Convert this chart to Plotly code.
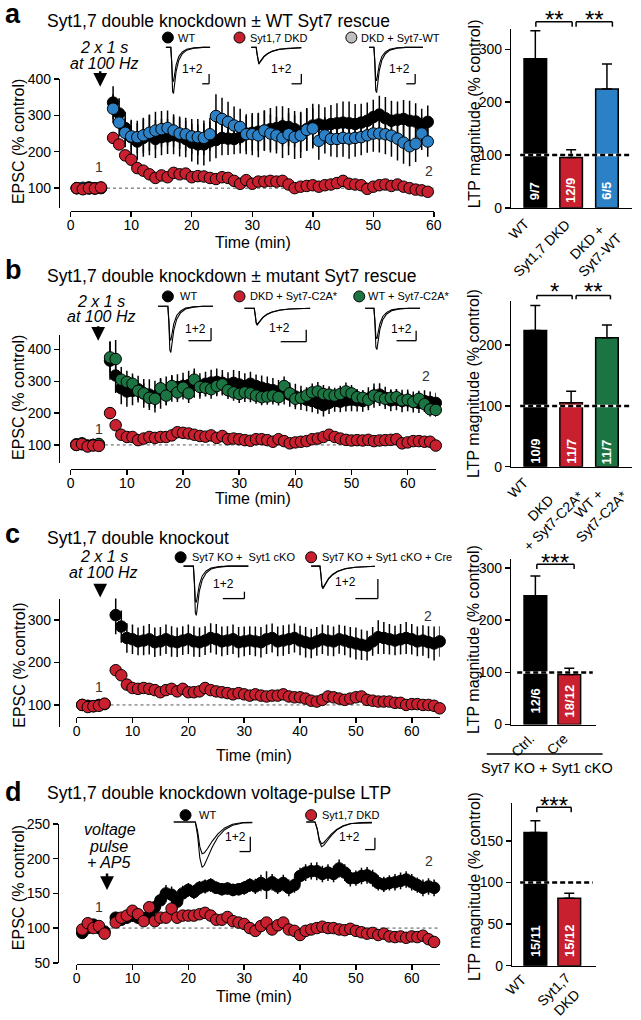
import plotly.graph_objects as go

# ======================= DATA =======================
# ---- panel a : Syt1,7 DKD +/- WT Syt7 rescue (time course, % control) ----
TIME_A = [1, 2, 3, 4, 5,
          7, 8, 9, 10, 11, 12, 13, 14, 15, 16,
          17, 18, 19, 20, 21, 22, 23, 24, 25, 26,
          27, 28, 29, 30, 31, 32, 33, 34, 35, 36,
          37, 38, 39, 40, 41, 42, 43, 44, 45, 46,
          47, 48, 49, 50, 51, 52, 53, 54, 55, 56,
          57, 58, 59]
WT_A = [100, 98, 102, 99, 101,
        335, 305, 265, 240, 228, 238, 245, 235, 240, 242,
        245, 242, 235, 225, 220, 220, 228, 232, 238, 236,
        235, 240, 250, 252, 255, 258, 262, 265, 270, 268,
        262, 255, 262, 272, 275, 272, 276, 278, 280, 278,
        276, 280, 285, 295, 302, 292, 285, 288, 290, 285,
        283, 270, 282]
ERR_WT_A = [10, 8, 9, 8, 7,
            45, 42, 45, 48, 50, 52, 55, 52, 50, 48,
            52, 55, 50, 52, 55, 58, 55, 50, 48, 45,
            42, 45, 48, 50, 52, 55, 58, 60, 55, 52,
            50, 55, 58, 60, 55, 50, 52, 55, 58, 60,
            55, 52, 50, 48, 52, 58, 55, 50, 52, 55,
            50, 48, 45]
RESCUE_A = [100, 101, 99, 100, 100,
            318, 280, 252, 242, 240, 245, 252, 258, 262, 265,
            258, 250, 248, 242, 240, 238, 248, 298, 290, 282,
            272, 268, 248, 248, 245, 258, 250, 245, 238, 248,
            240, 245, 260, 264, 230, 245, 235, 235, 238, 236,
            238, 240, 245, 250, 250, 248, 244, 236, 225, 215,
            222, 250, 228]
ERR_RESCUE_A = [6, 5, 6, 5, 6,
                40, 38, 40, 42, 45, 48, 50, 52, 50, 48,
                45, 42, 45, 48, 50, 48, 45, 60, 58, 55,
                52, 50, 55, 58, 60, 55, 52, 50, 55, 58,
                60, 62, 58, 55, 52, 50, 48, 50, 52, 55,
                52, 50, 48, 50, 52, 55, 58, 60, 58, 55,
                50, 45, 42]
DKD_A = [100, 97, 100, 99, 102,
         238, 220, 190, 178, 155, 148, 138, 128, 135, 130,
         142, 138, 140, 130, 133, 132, 128, 125, 130, 128,
         120, 112, 122, 112, 118, 118, 120, 118, 120, 110,
         100, 104, 106, 108, 104, 108, 110, 114, 120, 112,
         110, 108, 98, 104, 108, 110, 106, 110, 104, 100,
         96, 94, 90]
ERR_DKD_A = [5, 5, 6, 5, 5,
             15, 14, 12, 12, 10, 10, 9, 9, 9, 9,
             9, 9, 9, 9, 8, 8, 8, 8, 8, 8,
             8, 8, 8, 8, 8, 8, 8, 8, 8, 8,
             8, 8, 8, 8, 8, 8, 8, 8, 8, 8,
             8, 8, 8, 8, 8, 8, 8, 8, 8, 8,
             8, 8, 8]

# ---- panel b : Syt1,7 DKD +/- mutant Syt7 rescue ----
TIME_B = [1, 2, 3, 4, 5,
          7, 8, 9, 10, 11, 12, 13, 14, 15, 16,
          17, 18, 19, 20, 21, 22, 23, 24, 25, 26,
          27, 28, 29, 30, 31, 32, 33, 34, 35, 36,
          37, 38, 39, 40, 41, 42, 43, 44, 45, 46,
          47, 48, 49, 50, 51, 52, 53, 54, 55, 56,
          57, 58, 59, 60, 61, 62, 63, 64, 65]
WT_B = [100, 102, 98, 100, 100,
        365, 318, 278, 268, 270, 275, 262, 258, 252, 262,
        270, 278, 282, 285, 288, 290, 285, 292, 296, 298,
        295, 290, 295, 290, 285, 292, 285, 280, 275, 272,
        268, 262, 258, 252, 248, 242, 238, 232, 225, 232,
        238, 236, 240, 242, 240, 238, 245, 255, 258, 248,
        240, 242, 238, 240, 235, 232, 238, 235, 232]
ERR_WT_B = [8, 7, 8, 6, 7,
            60, 55, 50, 48, 45, 42, 45, 48, 50, 48,
            45, 42, 40, 42, 45, 42, 40, 38, 40, 42,
            40, 38, 40, 42, 40, 38, 36, 38, 40, 38,
            36, 35, 38, 40, 38, 36, 35, 34, 36, 35,
            34, 33, 35, 36, 35, 34, 36, 38, 36, 35,
            34, 33, 35, 34, 33, 32, 34, 33, 32]
C2A_WT_B = [102, 105, 97, 100, 103,
            375, 370, 305, 298, 292, 270, 262, 248, 245, 278,
            255, 285, 265, 280, 262, 305, 282, 280, 275, 285,
            290, 272, 265, 260, 265, 262, 255, 250, 252, 255,
            250, 285, 262, 245, 248, 255, 265, 268, 260, 258,
            255, 260, 268, 262, 250, 248, 242, 255, 250, 245,
            248, 250, 240, 242, 235, 245, 228, 212, 210]
ERR_C2A_WT_B = [6, 6, 7, 6, 6,
                50, 60, 40, 35, 32, 30, 32, 30, 28, 30,
                30, 32, 30, 28, 30, 35, 30, 28, 30, 32,
                30, 28, 26, 28, 30, 28, 26, 25, 26, 28,
                26, 30, 28, 26, 25, 26, 28, 30, 28, 26,
                25, 26, 28, 26, 25, 24, 25, 26, 25, 24,
                25, 26, 24, 25, 24, 25, 24, 23, 22]
C2A_DKD_B = [100, 103, 95, 98, 97,
             200, 162, 132, 125, 125, 115, 120, 125, 122, 125,
             125, 130, 140, 138, 136, 132, 128, 126, 130, 122,
             128, 118, 120, 118, 115, 113, 118, 118, 115, 110,
             118, 112, 105, 108, 110, 112, 118, 120, 125, 132,
             125, 120, 116, 114, 115, 114, 116, 112, 114, 115,
             116, 118, 105, 108, 112, 112, 110, 110, 98]
ERR_C2A_DKD_B = [6, 7, 6, 6, 6,
                 18, 14, 12, 10, 10, 10, 10, 10, 10, 10,
                 10, 10, 12, 12, 12, 10, 10, 10, 10, 10,
                 10, 10, 10, 10, 10, 10, 10, 10, 10, 10,
                 10, 10, 10, 10, 10, 10, 10, 10, 10, 10,
                 10, 10, 10, 10, 10, 10, 10, 10, 10, 10,
                 10, 10, 10, 10, 10, 10, 10, 10, 10]

# ---- panel c : Syt1,7 double knockout ----
TIME_C = [1, 2, 3, 4, 5,
          7, 8, 9, 10, 11, 12, 13, 14, 15, 16,
          17, 18, 19, 20, 21, 22, 23, 24, 25, 26,
          27, 28, 29, 30, 31, 32, 33, 34, 35, 36,
          37, 38, 39, 40, 41, 42, 43, 44, 45, 46,
          47, 48, 49, 50, 51, 52, 53, 54, 55, 56,
          57, 58, 59, 60, 61, 62, 63, 64, 65]
CTRL_C = [100, 98, 97, 100, 102,
          312, 285, 258, 255, 250, 252, 255, 248, 250, 255,
          250, 248, 252, 255, 250, 248, 252, 258, 255, 250,
          252, 255, 248, 250, 252, 250, 248, 255, 258, 250,
          252, 255, 258, 252, 248, 245, 250, 255, 252, 250,
          255, 252, 248, 245, 242, 240, 250, 260, 258, 255,
          252, 255, 258, 255, 250, 252, 248, 245, 250]
ERR_CTRL_C = [8, 7, 7, 6, 6,
              45, 38, 35, 35, 33, 35, 36, 35, 34, 35,
              36, 35, 34, 35, 36, 35, 34, 35, 36, 35,
              34, 35, 36, 35, 34, 35, 36, 35, 34, 35,
              36, 35, 34, 35, 36, 35, 34, 35, 36, 35,
              34, 35, 36, 38, 36, 35, 34, 40, 38, 36,
              35, 36, 38, 36, 35, 36, 38, 40, 36]
CRE_C = [100, 95, 97, 98, 103,
         182, 170, 148, 140, 138, 140, 138, 135, 130, 135,
         138, 132, 138, 130, 130, 132, 140, 135, 132, 130,
         128, 125, 128, 125, 122, 125, 122, 120, 122, 122,
         125, 120, 118, 118, 115, 110, 108, 112, 120, 118,
         115, 112, 115, 118, 120, 112, 110, 108, 108, 108,
         105, 105, 100, 102, 102, 100, 100, 98, 92]
ERR_CRE_C = [5, 5, 5, 5, 5,
             10, 9, 8, 8, 7, 7, 7, 7, 7, 7,
             7, 7, 7, 7, 7, 7, 7, 7, 7, 7,
             7, 7, 7, 7, 7, 7, 7, 7, 7, 7,
             7, 7, 7, 7, 7, 7, 7, 7, 7, 7,
             7, 7, 7, 7, 7, 7, 7, 7, 7, 7,
             7, 7, 7, 7, 7, 7, 7, 7, 7]

# ---- panel d : voltage-pulse LTP ----
TIME_D = [1, 2, 3, 4, 5,
          7, 8, 9, 10, 11, 12, 13, 14, 15, 16,
          17, 18, 19, 20, 21, 22, 23, 24, 25, 26,
          27, 28, 29, 30, 31, 32, 33, 34, 35, 36,
          37, 38, 39, 40, 41, 42, 43, 44, 45, 46,
          47, 48, 49, 50, 51, 52, 53, 54, 55, 56,
          57, 58, 59, 60, 61, 62, 63, 64]
WT_D = [93, 100, 105, 100, 95,
        115, 112, 115, 118, 115, 112, 118, 130, 140, 150,
        148, 138, 150, 155, 152, 158, 160, 162, 158, 156,
        157, 155, 156, 158, 162, 160, 165, 162, 166, 160,
        165, 158, 162, 175, 180, 182, 182, 178, 180, 178,
        186, 180, 172, 172, 175, 176, 172, 165, 163, 165,
        166, 168, 170, 166, 162, 158, 160, 158]
ERR_WT_D = [6, 5, 6, 5, 5,
            8, 8, 8, 9, 9, 9, 10, 10, 11, 12,
            12, 11, 11, 10, 10, 10, 10, 10, 9, 9,
            9, 9, 9, 10, 10, 11, 12, 20, 12, 11,
            12, 12, 11, 12, 12, 12, 13, 12, 12, 12,
            13, 12, 12, 11, 12, 12, 12, 11, 11, 11,
            12, 12, 12, 12, 11, 12, 12, 12]
DKD_D = [98, 107, 100, 103, 92,
         108, 115, 118, 125, 120, 110, 130, 110, 115, 115,
         128, 115, 118, 118, 118, 120, 122, 118, 112, 112,
         116, 110, 108, 106, 100, 96, 103, 108, 98, 104,
         108, 98, 96, 90, 96, 98, 100, 102, 100, 100,
         98, 97, 99, 96, 94, 92, 93, 90, 92, 88,
         87, 88, 86, 88, 87, 89, 84, 80]
ERR_DKD_D = [4, 4, 4, 4, 4,
             5, 5, 5, 5, 5, 5, 5, 5, 5, 5,
             5, 5, 5, 5, 5, 5, 5, 5, 5, 5,
             5, 5, 5, 5, 5, 5, 5, 5, 5, 5,
             5, 5, 5, 5, 5, 5, 5, 5, 5, 5,
             5, 5, 5, 5, 5, 5, 5, 5, 5, 5,
             5, 5, 5, 5, 5, 5, 5, 5]

# ---- bar graphs: LTP magnitude (% control) ----
BAR_A_LABELS = ["WT", "Syt1,7 DKD", "DKD +<br>Syt7-WT"]
BAR_A_VALUES = [282, 95, 225]
BAR_A_ERR = [53, 15, 47]
BAR_A_N = ["9/7", "12/9", "6/5"]

BAR_B_LABELS = ["WT", "DKD<br>+ Syt7-C2A*", "WT +<br>Syt7-C2A*"]
BAR_B_VALUES = [224, 105, 212]
BAR_B_ERR = [41, 19, 21]
BAR_B_N = ["10/9", "11/7", "11/7"]

BAR_C_LABELS = ["Ctrl.", "Cre"]
BAR_C_VALUES = [247, 96]
BAR_C_ERR = [38, 12]
BAR_C_N = ["12/6", "18/12"]

BAR_D_LABELS = ["WT", "Syt1,7<br>DKD"]
BAR_D_VALUES = [160, 81]
BAR_D_ERR = [14, 6]
BAR_D_N = ["15/11", "15/12"]

# ---- example EPSC traces (normalised amplitude; 1 = before, 2 = after LTP) ----
SWEEP_MS = [-30, 0, 1, 2, 3, 4, 6, 9, 13, 18, 26, 36, 60]
WT_EPSC_1 = [0, 0, -0.30, -0.70, -0.74, -0.60, -0.38, -0.20, -0.10, -0.04, -0.01, 0, 0]
WT_EPSC_2 = [0, 0, -0.35, -0.95, -1.00, -0.82, -0.52, -0.28, -0.14, -0.06, -0.02, 0, 0]
DKD_EPSC_1 = [0, 0, -0.38, -0.86, -0.96, -0.88, -0.72, -0.53, -0.36, -0.23, -0.11, -0.05, 0]
DKD_EPSC_2 = [0, 0, -0.40, -0.90, -1.00, -0.92, -0.75, -0.55, -0.38, -0.24, -0.12, -0.05, 0]
VP_MS = [-40, 0, 2, 4, 6, 8, 11, 15, 20, 26, 33, 42, 80]
VP_WT_1 = [0, 0, -0.20, -0.55, -0.70, -0.68, -0.58, -0.42, -0.26, -0.13, -0.05, -0.01, 0]
VP_WT_2 = [0, 0, -0.30, -0.80, -1.00, -0.95, -0.78, -0.55, -0.33, -0.17, -0.07, -0.02, 0]
VP_DKD_1 = [0, 0, -0.30, -0.80, -1.00, -0.95, -0.78, -0.55, -0.33, -0.17, -0.07, -0.02, 0]
VP_DKD_2 = [0, 0, -0.27, -0.72, -0.88, -0.84, -0.69, -0.49, -0.30, -0.15, -0.06, -0.02, 0]

# ======================= STYLE / LAYOUT =======================
W, H = 641, 1020
FONT = "Liberation Sans, Arial, Helvetica, sans-serif"
RED = "#C8202F"
BLUE = "#2B80C6"
GREEN = "#1C7443"
GREY = "#BEBEBE"


def px(x):
    return x / W


def py(y):
    return 1 - y / H


def sfx(n):
    return '' if n == 1 else str(n)


fig = go.Figure()
layout = dict(width=W, height=H, margin=dict(l=0, r=0, t=0, b=0),
              paper_bgcolor='white', plot_bgcolor='rgba(0,0,0,0)',
              showlegend=False, font=dict(family=FONT, color='black', size=14))
annotations = []
shapes = []


def text(x, y, t, size=14, xanchor='center', yanchor='middle', angle=0,
         color='black', bold=False, italic=False, align='center'):
    if bold:
        t = '<b>' + t + '</b>'
    if italic:
        t = '<i>' + t + '</i>'
    annotations.append(dict(x=px(x), y=py(y), xref='paper', yref='paper', text=t,
                            showarrow=False, xanchor=xanchor, yanchor=yanchor, align=align,
                            textangle=angle, font=dict(size=size, color=color, family=FONT)))


def pline(x0, y0, x1, y1, width=1.5, color='black', dash=None):
    ln = dict(color=color, width=width)
    if dash:
        ln['dash'] = dash
    shapes.append(dict(type='line', xref='paper', yref='paper', x0=px(x0), y0=py(y0),
                       x1=px(x1), y1=py(y1), line=ln, layer='above'))


# ---------------- time-course panels ----------------
TIME_PANELS = [
    dict(n=1, xdom=(68, 438), xr=(0, 60), xpos=206, ydom=(203, 72), yr=(46, 400), ypos=56,
         yt=[100, 200, 300, 400], xt=[0, 10, 20, 30, 40, 50, 60]),
    dict(n=3, xdom=(68, 440), xr=(0, 65), xpos=468, ydom=(462, 332), yr=(44, 446), ypos=56,
         yt=[100, 200, 300, 400], xt=[0, 10, 20, 30, 40, 50, 60]),
    dict(n=5, xdom=(74, 444), xr=(0, 65), xpos=720, ydom=(730, 600), yr=(49, 351), ypos=56,
         yt=[100, 200, 300], xt=[0, 10, 20, 30, 40, 50, 60]),
    dict(n=7, xdom=(74, 444), xr=(0, 65), xpos=971, ydom=(970, 829), yr=(50, 250), ypos=55,
         yt=[50, 100, 150, 200, 250], xt=[0, 10, 20, 30, 40, 50, 60]),
]
for p in TIME_PANELS:
    s = sfx(p['n'])
    layout['xaxis' + s] = dict(domain=[px(p['xdom'][0]), px(p['xdom'][1])], range=list(p['xr']),
                               anchor='free', position=py(p['xpos']), showline=True, linewidth=1.5,
                               linecolor='black', ticks='outside', ticklen=5, tickwidth=1.5,
                               tickcolor='black', tickvals=p['xt'], showgrid=False, zeroline=False,
                               tickfont=dict(size=14), ticklabelstandoff=-4)
    layout['yaxis' + s] = dict(domain=[py(p['ydom'][0]), py(p['ydom'][1])], range=list(p['yr']),
                               anchor='free', position=px(p['ypos']), showline=True, linewidth=1.5,
                               linecolor='black', ticks='outside', ticklen=5, tickwidth=1.5,
                               tickcolor='black', tickvals=p['yt'], showgrid=False, zeroline=False,
                               tickfont=dict(size=14))
    shapes.append(dict(type='line', xref='x' + s, yref='y' + s, x0=5, x1=p['xr'][1], y0=100, y1=100,
                       line=dict(color='#555555', width=1, dash='dot'), layer='below'))

TIME_SERIES = [
    (1, TIME_A, WT_A, ERR_WT_A, 'black'),
    (1, TIME_A, RESCUE_A, ERR_RESCUE_A, BLUE),
    (1, TIME_A, DKD_A, ERR_DKD_A, RED),
    (3, TIME_B, WT_B, ERR_WT_B, 'black'),
    (3, TIME_B, C2A_WT_B, ERR_C2A_WT_B, GREEN),
    (3, TIME_B, C2A_DKD_B, ERR_C2A_DKD_B, RED),
    (5, TIME_C, CTRL_C, ERR_CTRL_C, 'black'),
    (5, TIME_C, CRE_C, ERR_CRE_C, RED),
    (7, TIME_D, WT_D, ERR_WT_D, 'black'),
    (7, TIME_D, DKD_D, ERR_DKD_D, RED),
]
for n, t, v, e, c in TIME_SERIES:
    assert len(t) == len(v) == len(e), (n, len(t), len(v), len(e))
    s = sfx(n)
    fig.add_trace(go.Scatter(x=t, y=v, mode='markers', xaxis='x' + s, yaxis='y' + s,
                             marker=dict(size=11.5, color=c, line=dict(color='black', width=1)),
                             error_y=dict(type='data', array=e, visible=True, color='black',
                                          thickness=1.5, width=0),
                             cliponaxis=False, hoverinfo='skip'))

# ---------------- bar panels ----------------
BAR_PANELS = [
    dict(n=2, xdom=(517, 640), xr=(-0.67, 2.7), ydom=(203, 21), yr=(0, 339), yt=[0, 100, 200, 300],
         labels=BAR_A_LABELS, vals=BAR_A_VALUES, err=BAR_A_ERR, ns=BAR_A_N,
         colors=['black', RED, BLUE], width=0.63, nlab_y=32, dash=(526, 640),
         lab_pos=[(541, 208), (583, 209), (636, 209)]),
    dict(n=4, xdom=(517, 640), xr=(-0.67, 2.7), ydom=(466, 298), yr=(0, 272), yt=[0, 100, 200],
         labels=BAR_B_LABELS, vals=BAR_B_VALUES, err=BAR_B_ERR, ns=BAR_B_N,
         colors=['black', RED, GREEN], width=0.63, nlab_y=25, dash=(526, 640),
         lab_pos=[(540, 471), (597, 471), (641, 471)]),
    dict(n=6, xdom=(517, 603), xr=(-0.71, 1.78), ydom=(728, 560), yr=(0, 317), yt=[0, 100, 200, 300],
         labels=BAR_C_LABELS, vals=BAR_C_VALUES, err=BAR_C_ERR, ns=BAR_C_N,
         colors=['black', RED], width=0.67, nlab_y=45, dash=(523, 600),
         lab_pos=[(547, 731), (581, 731)]),
    dict(n=8, xdom=(518, 603), xr=(-0.68, 1.78), ydom=(973, 808), yr=(0, 195), yt=[0, 50, 100, 150],
         labels=BAR_D_LABELS, vals=BAR_D_VALUES, err=BAR_D_ERR, ns=BAR_D_N,
         colors=['black', RED], width=0.67, nlab_y=30, dash=(526, 600),
         lab_pos=[(538, 976), (596, 974)]),
]
for p in BAR_PANELS:
    s = sfx(p['n'])
    k = len(p['vals'])
    pos = list(range(k))
    layout['xaxis' + s] = dict(domain=[px(p['xdom'][0]), px(p['xdom'][1])], range=list(p['xr']),
                               anchor='y' + s, showline=True, linewidth=1.5, linecolor='black',
                               ticks='', showticklabels=False, showgrid=False, zeroline=False)
    layout['yaxis' + s] = dict(domain=[py(p['ydom'][0]), py(p['ydom'][1])], range=list(p['yr']),
                               anchor='x' + s, showline=True, linewidth=1.5, linecolor='black',
                               ticks='outside', ticklen=5, tickwidth=1.5, tickcolor='black',
                               tickvals=p['yt'], showgrid=False, zeroline=False,
                               tickfont=dict(size=14))
    fig.add_trace(go.Bar(x=pos, y=p['vals'], width=p['width'], xaxis='x' + s, yaxis='y' + s,
                         marker=dict(color=p['colors'], line=dict(color='black', width=1.5)),
                         error_y=dict(type='data', symmetric=False, array=p['err'],
                                      arrayminus=[0] * k, color='black', thickness=1.5, width=5),
                         hoverinfo='skip'))
    for i, lab in enumerate(p['ns']):
        annotations.append(dict(x=i, y=p['nlab_y'], xref='x' + s, yref='y' + s,
                                text='<b>' + lab + '</b>', showarrow=False, textangle=-90,
                                xanchor='center', yanchor='middle',
                                font=dict(size=13, color='white', family=FONT)))
    # category labels, rotated 45 degrees
    for lab, (lx, ly) in zip(p['labels'], p['lab_pos']):
        text(lx, ly, lab, size=14, xanchor='right', yanchor='top', angle=-45)
    # 100 % reference line (black dashes over a white line)
    for col, dsh in (('white', None), ('black', '5px,3px')):
        ln = dict(color=col, width=2.5)
        if dsh:
            ln['dash'] = dsh
        shapes.append(dict(type='line', xref='paper', yref='y' + s, x0=px(p['dash'][0]),
                           x1=px(p['dash'][1]), y0=100, y1=100, line=ln, layer='above'))

# ---------------- example traces (insets) ----------------
INSETS = [  # x0, x1, onset, px per ms, baseline y, peak y, sweep, trace 1, trace 2
    (165, 210, 170, 0.9, 40, 87, SWEEP_MS, WT_EPSC_1, WT_EPSC_2),
    (252, 303, 257, 0.9, 40, 57, SWEEP_MS, DKD_EPSC_1, DKD_EPSC_2),
    (372, 427, 377, 0.9, 40, 86, SWEEP_MS, WT_EPSC_1, WT_EPSC_2),
    (157, 213, 167, 1.0, 303, 350, SWEEP_MS, WT_EPSC_1, WT_EPSC_2),
    (245, 312, 255, 1.0, 305, 322, SWEEP_MS, DKD_EPSC_1, DKD_EPSC_2),
    (368, 424, 377, 1.0, 305, 347, SWEEP_MS, WT_EPSC_1, WT_EPSC_2),
    (183, 249, 193, 1.0, 567, 617, SWEEP_MS, WT_EPSC_1, WT_EPSC_2),
    (313, 378, 322, 1.0, 567, 590, SWEEP_MS, DKD_EPSC_1, DKD_EPSC_2),
    (173, 253, 195, 1.15, 827, 873, VP_MS, VP_WT_1, VP_WT_2),
    (308, 375, 317, 1.1, 827, 852, VP_MS, VP_DKD_1, VP_DKD_2),
]
for k, (x0, x1, on, sp, yb, yp, tt, tr1, tr2) in enumerate(INSETS, start=9):
    d = yp - yb
    layout['xaxis%d' % k] = dict(domain=[px(x0), px(x1)], range=[-(on - x0) / sp, (x1 - on) / sp],
                                 visible=False, anchor='y%d' % k)
    layout['yaxis%d' % k] = dict(domain=[py(yp + 2), py(yb - 2)], range=[-1 - 2 / d, 2 / d],
                                 visible=False, anchor='x%d' % k)
    for tr in (tr1, tr2):
        fig.add_trace(go.Scatter(x=tt, y=tr, mode='lines', xaxis='x%d' % k, yaxis='y%d' % k,
                                 line=dict(color='black', width=1.1), hoverinfo='skip'))

SCALEBARS = [  # vertical x, top y, bottom y, left x
    (209, 67, 77, 202), (303, 67, 77, 293), (419, 67, 77, 410),
    (211, 325, 338, 188), (308, 327, 339, 282), (420, 328, 338, 400),
    (245, 593, 600, 223), (381, 580, 600, 358),
    (251, 842, 857, 240), (378, 843, 855, 368),
]
LABELS_12 = [(192, 62), (283, 62), (403, 62), (195, 326), (281, 325), (405, 326),
             (224, 585), (348, 583), (236, 842), (352, 842)]
for (xv, yt, ybm, xl), (lx, ly) in zip(SCALEBARS, LABELS_12):
    pline(xv, yt, xv, ybm, width=1.3)
    pline(xl, ybm, xv, ybm, width=1.3)
    text(lx, ly, '1+2', size=12)

# ---------------- legends ----------------
LEGENDS = [  # circle x, y, fill, text, text x
    (167, 30, 'black', 'WT', 175), (240, 30, RED, 'Syt1,7 DKD', 249), (354, 30, GREY, 'DKD + Syt7-WT', 362),
    (167, 293, 'black', 'WT', 177), (240, 293, RED, 'DKD + Syt7-C2A*', 249), (362, 293, GREEN, 'WT + Syt7-C2A*', 369),
    (180, 558, 'black', 'Syt7 KO +  Syt1 cKO', 190), (313, 558, RED, 'Syt7 KO + Syt1 cKO + Cre', 322),
    (185, 820, 'black', 'WT', 197), (313, 820, RED, 'Syt1,7 DKD', 322),
]
for cx, cy, fill, lab, tx in LEGENDS:
    shapes.append(dict(type='circle', xref='paper', yref='paper', xsizemode='pixel',
                       ysizemode='pixel', xanchor=px(cx), yanchor=py(cy), x0=-5.5, x1=5.5,
                       y0=-5.5, y1=5.5, fillcolor=fill, line=dict(color='black', width=1),
                       layer='above'))
    text(tx, cy, lab, size=11, xanchor='left')

# ---------------- panel letters, titles ----------------
for lx, ly, L in ((-1, 6, 'a'), (-1, 266, 'b'), (-1, 534, 'c'), (-1, 796, 'd')):
    text(lx, ly, L, size=27, xanchor='left', bold=True)
TITLES = [(42, 13, 'Syt1,7 double knockdown ± WT Syt7 rescue'),
          (42, 272, 'Syt1,7 double knockdown ± mutant Syt7 rescue'),
          (42, 538, 'Syt1,7 double knockout'),
          (42, 798, 'Syt1,7 double knockdown voltage-pulse LTP')]
for tx, ty, t in TITLES:
    text(tx, ty, t, size=17.5, xanchor='left')

# axis titles
for yc in (136, 396, 668, 894):
    text(15.5, yc, 'EPSC (% control)', size=16, angle=-90)
for xc, yc in ((254, 238), (254, 498), (255, 759), (255, 1004)):
    text(xc, yc, 'Time (min)', size=16)
for xc, yc in ((479, 108), (478, 382), (479, 642), (480, 893)):
    text(xc, yc, 'LTP magnitude (% control)', size=16, angle=-90)

# stimulation annotations + arrows
for tx, ty, t in ((102, 40, '2 x 1 s'), (102, 56, 'at 100 Hz'),
                  (99, 298, '2 x 1 s'), (99, 313, 'at 100 Hz'),
                  (102, 557, '2 x 1 s'), (101, 573, 'at 100 Hz'),
                  (108, 835, 'voltage'), (107, 852, 'pulse'), (107, 868, '+ AP5')):
    text(tx, ty, t, size=16, italic=True)
for ax_, tip, ln in ((98, 80, 17), (96, 338, 16), (98, 599, 13), (105, 896, 18)):
    annotations.append(dict(x=px(ax_), y=py(tip), xref='paper', yref='paper', text='',
                            showarrow=True, ax=0, ay=-ln, arrowhead=2, arrowsize=1.1,
                            arrowwidth=2.5, arrowcolor='black'))

# time-point labels 1 and 2
for tx, ty, t in ((97, 162, '1'), (433, 166, '2'), (97, 428, '1'), (430, 374, '2'),
                  (97, 690, '1'), (432, 618, '2'), (97, 913, '1'), (433, 867, '2')):
    text(tx, ty, t, size=14, color='#333333')

# significance brackets
BRACKETS = [  # x left, x right, y, drop, stars, star y
    (542, 579, 14, 19, '**', 12), (583, 620, 14, 19, '**', 12),
    (543, 579, 292, 296, '*', 288), (583, 618, 292, 296, '**', 288),
    (543, 581, 565, 570, '***', 563),
    (543, 578, 812, 817, '***', 810),
]
for xl, xr, yb, yd, st, sy in BRACKETS:
    pline(xl, yd, xl, yb)
    pline(xl, yb, xr, yb)
    pline(xr, yb, xr, yd)
    text((xl + xr) / 2, sy, st, size=24)

# genotype underline in panel c
pline(492, 758, 610, 758, width=1.5)
text(553, 772, 'Syt7 KO + Syt1 cKO', size=14.5)

layout['annotations'] = annotations
layout['shapes'] = shapes
fig.update_layout(**layout)
fig.write_html("out.html", config={'displayModeBar': False, 'staticPlot': True},
               post_script="document.body.style.margin='0px';document.body.style.overflow='hidden';")
